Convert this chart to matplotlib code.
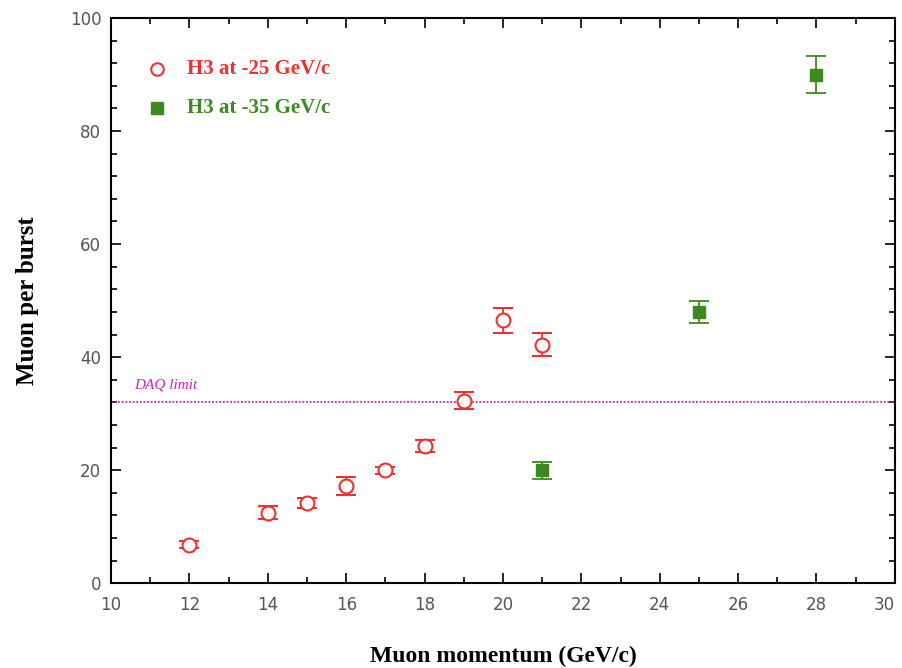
import numpy as np
import matplotlib
matplotlib.use("Agg")
import matplotlib.pyplot as plt
from matplotlib.ticker import MultipleLocator

# H3 at -25 GeV/c
p25 = [12, 14, 15, 16, 17, 18, 19, 20, 21]
mu25 = [6.8, 12.5, 14.2, 17.2, 20.0, 24.3, 32.3, 46.5, 42.2]
err25 = [0.6, 1.2, 0.9, 1.6, 0.6, 1.1, 1.5, 2.2, 2.0]

# H3 at -35 GeV/c
p35 = [21, 25, 28]
mu35 = [20.0, 48.0, 90.0]
err35 = [1.5, 2.0, 3.2]

xticks = [10, 12, 14, 16, 18, 20, 22, 24, 26, 28, 30]
daq_limit = 32

red = "#ee3030"
green = "#3a8a1e"

fig = plt.figure(figsize=(9.03, 6.68), dpi=100)
ax = fig.add_axes([0.123, 0.127, 0.868, 0.846])

ax.axhline(daq_limit, color="#d020c0", lw=1.3, ls=(0, (1, 1)))
ax.text(10.6, daq_limit + 2.5, "DAQ limit", color="#d020c0", fontsize=11,
        family="Liberation Serif", style="italic")

ax.errorbar(p25, mu25, yerr=err25, fmt="o", ms=10, mfc="white", mec=red,
            mew=1.5, ecolor=red, elinewidth=1.3, capsize=7, capthick=1.3)
ax.errorbar(p35, mu35, yerr=err35, fmt="s", ms=8, mfc=green, mec=green,
            ecolor=green, elinewidth=1.3, capsize=7, capthick=1.3)

# legend drawn by hand
ax.plot([11.18], [91], "o", ms=9, mfc="white", mec=red, mew=1.5)
ax.text(11.95, 91, "H3 at -25 GeV/c", color=red, fontsize=15,
        family="Liberation Serif", weight="bold", va="center")
ax.plot([11.18], [84], "s", ms=8, color=green)
ax.text(11.95, 84, "H3 at -35 GeV/c", color=green, fontsize=15,
        family="Liberation Serif", weight="bold", va="center")

ax.set_xlim(10, 30)
ax.set_ylim(0, 100)
ax.set_xticks(xticks)
ax.xaxis.set_minor_locator(MultipleLocator(1))
ax.yaxis.set_major_locator(MultipleLocator(20))
ax.yaxis.set_minor_locator(MultipleLocator(4))
ax.tick_params(which="both", direction="in", top=True, right=True,
               labelsize=12, labelcolor="#555555", width=1.2)
ax.tick_params(which="major", length=7)
ax.tick_params(which="minor", length=4)
ax.tick_params(axis="x", pad=9)
ax.tick_params(axis="y", pad=7)
for s in ax.spines.values():
    s.set_linewidth(1.5)

# keep the last x tick label inside the figure
ax.xaxis.get_major_ticks()[-1].label1.set_horizontalalignment("right")

ax.set_xlabel("Muon momentum (GeV/c)", fontsize=17, family="Liberation Serif",
              weight="bold", labelpad=23)
ax.set_ylabel("Muon per burst", fontsize=18, family="Liberation Serif",
              weight="bold", labelpad=22)

fig.savefig("out.png", dpi=100)
